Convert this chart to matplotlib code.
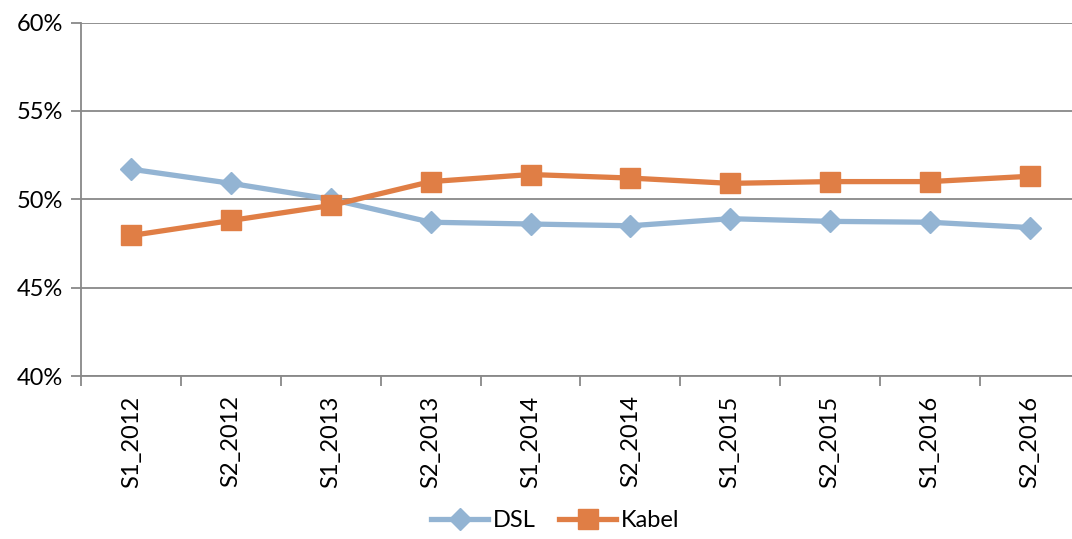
import numpy as np
import matplotlib
matplotlib.use("Agg")
from matplotlib import pyplot as plt
from matplotlib.ticker import FuncFormatter, FixedLocator

categories = ['S1_2012', 'S2_2012', 'S1_2013', 'S2_2013', 'S1_2014',
              'S2_2014', 'S1_2015', 'S2_2015', 'S1_2016', 'S2_2016']
dsl = [51.7, 50.9, 50.0, 48.7, 48.6, 48.5, 48.9, 48.75, 48.7, 48.4]
kabel = [47.95, 48.8, 49.65, 51.0, 51.4, 51.2, 50.9, 51.0, 51.0, 51.3]
y_ticks = [40, 45, 50, 55, 60]

DSL_COLOR = '#93b4d3'
KABEL_COLOR = '#e07e45'
GRID_COLOR = '#888888'

plt.rcParams['font.family'] = ['Lato', 'DejaVu Sans']

fig = plt.figure(figsize=(10.72, 5.39), dpi=100)
ax = fig.add_axes([0.076, 0.3024, 0.931, 0.6558])

x = np.arange(len(categories))
ax.plot(x, dsl, color=DSL_COLOR, linewidth=3.8, marker='D', markersize=11,
        markeredgecolor=DSL_COLOR, label='DSL', zorder=3)
ax.plot(x, kabel, color=KABEL_COLOR, linewidth=3.8, marker='s', markersize=14,
        markeredgecolor=KABEL_COLOR, label='Kabel', zorder=4)

ax.set_xlim(-0.5, len(categories) - 0.5)
ax.set_ylim(40, 60)
ax.set_yticks(y_ticks)
ax.yaxis.set_major_formatter(FuncFormatter(lambda v, p: f'{v:.0f}%'))
ax.grid(axis='y', color=GRID_COLOR, linewidth=1.3)
ax.set_axisbelow(True)

# category labels centred, tick marks on the boundaries
ax.set_xticks(x)
ax.set_xticklabels(categories, rotation=90, fontsize=17)
ax.tick_params(axis='x', which='major', length=0, pad=14)
ax.xaxis.set_minor_locator(FixedLocator(np.arange(-0.5, len(categories), 1.0)))
ax.tick_params(axis='x', which='minor', length=7, width=1.3, color=GRID_COLOR)
ax.tick_params(axis='y', length=7, width=1.3, color=GRID_COLOR, labelsize=17, pad=6)

for side in ['top', 'right']:
    ax.spines[side].set_visible(False)
for side in ['left', 'bottom']:
    ax.spines[side].set_color(GRID_COLOR)
    ax.spines[side].set_linewidth(1.3)

fig.legend(loc='lower center', bbox_to_anchor=(0.518, -0.025), ncol=2, frameon=False,
           fontsize=17, handlelength=2.4, columnspacing=1.0, handletextpad=0.2)

fig.savefig('out.png', dpi=100)
